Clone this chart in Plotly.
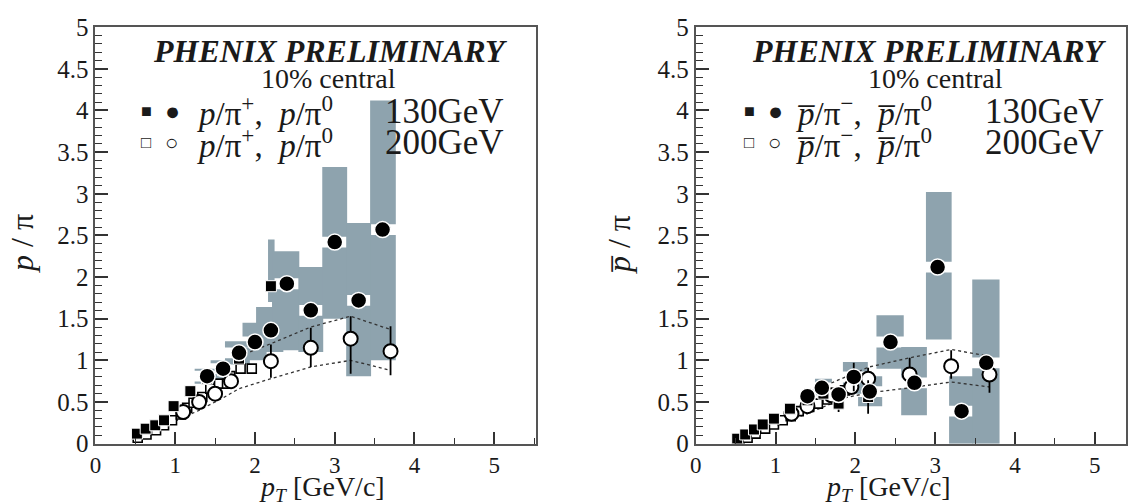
import plotly.graph_objects as go

# ---------------- LEFT PANEL: p/pi, 10% central ----------------
L_sq130_x = [0.52, 0.63, 0.75, 0.86, 0.98, 1.19, 1.40, 1.60, 1.80, 2.20]
L_sq130_y = [0.12, 0.18, 0.22, 0.28, 0.45, 0.63, 0.78, 0.88, 1.02, 1.89]
L_ci130_x = [1.40, 1.60, 1.80, 2.00, 2.20, 2.40, 2.70, 3.00, 3.30, 3.60]
L_ci130_y = [0.81, 0.90, 1.09, 1.22, 1.36, 1.92, 1.60, 2.42, 1.72, 2.57]
L_sq200_x = [0.53, 0.64, 0.76, 0.86, 0.96, 1.07, 1.15, 1.23, 1.34, 1.44, 1.55, 1.65, 1.69, 1.82, 1.96]
L_sq200_y = [0.07, 0.11, 0.16, 0.22, 0.28, 0.35, 0.43, 0.49, 0.56, 0.66, 0.72, 0.72, 0.81, 0.90, 0.90]
L_ci200_x = [1.10, 1.30, 1.50, 1.70, 2.20, 2.70, 3.20, 3.70]
L_ci200_y = [0.38, 0.50, 0.60, 0.75, 0.99, 1.15, 1.26, 1.11]
L_ci200_eup = [0.0, 0.0, 0.0, 0.0, 0.20, 0.24, 0.27, 0.30]
L_ci200_edn = [0.0, 0.0, 0.0, 0.0, 0.20, 0.23, 0.42, 0.29]
L_up_x = [1.80, 2.20, 2.70, 3.20, 3.70]
L_up_y = [1.05, 1.20, 1.40, 1.53, 1.37]
L_lo_x = [1.00, 1.30, 1.60, 1.80, 2.20, 2.70, 3.20, 3.70]
L_lo_y = [0.27, 0.40, 0.55, 0.66, 0.78, 0.92, 1.00, 0.88]
# systematic boxes (130 GeV)
L_box_x0 = [1.25, 1.45, 1.63, 1.85, 2.02, 2.17, 2.22, 2.55, 2.85, 3.15, 3.45]
L_box_x1 = [1.55, 1.72, 1.93, 2.14, 2.35, 2.24, 2.55, 2.85, 3.15, 3.45, 3.76]
L_box_y0 = [0.72, 0.78, 0.95, 1.00, 1.10, 1.70, 1.12, 1.10, 1.50, 0.81, 1.00]
L_box_y1 = [0.90, 1.00, 1.23, 1.45, 1.64, 2.45, 2.31, 2.12, 3.32, 2.65, 4.12]
L_box_yc = [0.81, 0.90, 1.09, 1.22, 1.36, 1.89, 1.92, 1.60, 2.42, 1.72, 2.57]

# ---------------- RIGHT PANEL: pbar/pi, 10% central ----------------
R_sq130_x = [0.52, 0.62, 0.73, 0.84, 0.98, 1.18, 1.40, 1.60, 1.79, 2.16]
R_sq130_y = [0.06, 0.11, 0.17, 0.23, 0.30, 0.42, 0.52, 0.60, 0.48, 0.56]
R_sq130_e = [0.0, 0.0, 0.0, 0.0, 0.0, 0.0, 0.0, 0.0, 0.10, 0.20]
R_ci130_x = [1.40, 1.58, 1.79, 1.98, 2.18, 2.44, 2.74, 3.03, 3.33, 3.64]
R_ci130_y = [0.57, 0.67, 0.59, 0.80, 0.625, 1.22, 0.73, 2.12, 0.39, 0.97]
R_ci130_e = [0.0, 0.10, 0.10, 0.17, 0.0, 0.0, 0.0, 0.0, 0.0, 0.0]
R_sq200_x = [0.55, 0.65, 0.75, 0.87, 0.98, 1.09, 1.19, 1.29, 1.42, 1.53, 1.65, 1.75, 1.87]
R_sq200_y = [0.05, 0.07, 0.12, 0.18, 0.23, 0.28, 0.33, 0.39, 0.44, 0.48, 0.53, 0.59, 0.64]
R_ci200_x = [1.20, 1.40, 1.70, 1.95, 2.16, 2.68, 3.20, 3.68]
R_ci200_y = [0.36, 0.45, 0.58, 0.68, 0.78, 0.83, 0.93, 0.83]
R_ci200_eup = [0.0, 0.0, 0.0, 0.0, 0.13, 0.20, 0.19, 0.23]
R_ci200_edn = [0.0, 0.0, 0.0, 0.0, 0.12, 0.15, 0.15, 0.22]
R_up_x = [1.63, 2.17, 2.68, 3.20, 3.68]
R_up_y = [0.70, 0.92, 1.03, 1.13, 1.05]
R_lo_x = [0.96, 1.40, 1.87, 2.17, 2.68, 3.20, 3.68]
R_lo_y = [0.21, 0.36, 0.55, 0.61, 0.67, 0.74, 0.68]
R_box_x0 = [1.35, 1.50, 1.85, 2.04, 2.27, 2.58, 2.89, 3.18, 3.47]
R_box_x1 = [1.55, 1.70, 2.15, 2.33, 2.60, 2.89, 3.20, 3.47, 3.80]
R_box_y0 = [0.50, 0.58, 0.60, 0.45, 0.90, 0.34, 1.25, 0.00, 0.00]
R_box_y1 = [0.65, 0.78, 0.98, 0.81, 1.54, 1.16, 3.02, 0.81, 1.97]
R_box_yc = [0.57, 0.67, 0.80, 0.625, 1.22, 0.73, 2.12, 0.39, 0.97]

# tick values
X_TICKS = [0, 1, 2, 3, 4, 5]
Y_TICKS = [0, 0.5, 1, 1.5, 2, 2.5, 3, 3.5, 4, 4.5, 5]

W, H = 1128, 504
FONT = "Liberation Serif"
BOXC = "#8ea3ae"
GAP = 0.065
PAD = 0.006


def px(x):
    return x / W


def py(y):
    return 1 - y / H


fig = go.Figure()
shapes = []


def add_panel(xa, ya, sq130, ci130, sq200, ci200, ci200e, up, lo, boxes, sq130e=None, ci130e=None):
    x0s, x1s, y0s, y1s, ycs = boxes
    for a, b, c, d, yc in zip(x0s, x1s, y0s, y1s, ycs):
        parts = [(c, d)]
        if c < yc < d:
            parts = [(c, yc - GAP), (yc + GAP, d)]
        for lo_, hi_ in parts:
            if hi_ > lo_:
                shapes.append(dict(type="rect", xref=xa, yref=ya, x0=a - PAD, x1=b + PAD,
                                   y0=lo_, y1=hi_,
                                   fillcolor=BOXC, line=dict(width=0), layer="below"))
    for lx, ly in (up, lo):
        fig.add_trace(go.Scatter(x=lx, y=ly, mode="lines", xaxis=xa, yaxis=ya,
                                 line=dict(color="#333", width=1.3, dash="dot"), hoverinfo="skip"))
    fig.add_trace(go.Scatter(x=sq200[0], y=sq200[1], mode="markers", xaxis=xa, yaxis=ya,
                             marker=dict(symbol="square", size=9, color="white",
                                         line=dict(color="black", width=1.6))))
    fig.add_trace(go.Scatter(x=ci200[0], y=ci200[1], mode="markers", xaxis=xa, yaxis=ya,
                             error_y=dict(type="data", symmetric=False, array=ci200e[0],
                                          arrayminus=ci200e[1], color="black", thickness=1.8, width=0),
                             marker=dict(symbol="circle", size=14, color="white",
                                         line=dict(color="black", width=2))))
    ey = None
    if sq130e is not None:
        ey = dict(type="data", array=sq130e, color="black", thickness=1.8, width=0)
    fig.add_trace(go.Scatter(x=sq130[0], y=sq130[1], mode="markers", xaxis=xa, yaxis=ya,
                             error_y=ey,
                             marker=dict(symbol="square", size=11, color="black",
                                         line=dict(color="white", width=1))))
    ey = None
    if ci130e is not None:
        ey = dict(type="data", array=ci130e, color="black", thickness=1.8, width=0)
    fig.add_trace(go.Scatter(x=ci130[0], y=ci130[1], mode="markers", xaxis=xa, yaxis=ya,
                             error_y=ey,
                             marker=dict(symbol="circle", size=16, color="black",
                                         line=dict(color="white", width=1.5))))


add_panel("x", "y", (L_sq130_x, L_sq130_y), (L_ci130_x, L_ci130_y), (L_sq200_x, L_sq200_y),
          (L_ci200_x, L_ci200_y), (L_ci200_eup, L_ci200_edn), (L_up_x, L_up_y), (L_lo_x, L_lo_y),
          (L_box_x0, L_box_x1, L_box_y0, L_box_y1, L_box_yc))
add_panel("x2", "y2", (R_sq130_x, R_sq130_y), (R_ci130_x, R_ci130_y), (R_sq200_x, R_sq200_y),
          (R_ci200_x, R_ci200_y), (R_ci200_eup, R_ci200_edn), (R_up_x, R_up_y), (R_lo_x, R_lo_y),
          (R_box_x0, R_box_x1, R_box_y0, R_box_y1, R_box_yc), R_sq130_e, R_ci130_e)

xtickfont = dict(family=FONT, size=23, color="#1a1a1a")
ytickfont = dict(family=FONT, size=25, color="#1a1a1a")


def xaxis(domain, rng, anchor):
    return dict(domain=domain, range=rng, anchor=anchor, tickvals=X_TICKS, ticks="inside",
                ticklen=12, tickwidth=1.5, tickcolor="#333",
                minor=dict(ticks="inside", dtick=0.5, ticklen=6, tickwidth=1.3, tickcolor="#333"),
                showline=True, linecolor="#555", linewidth=2, mirror=True,
                showgrid=False, zeroline=False, tickfont=xtickfont, fixedrange=True)


def yaxis(anchor):
    return dict(domain=[py(455), py(15)], range=[0, 5], anchor=anchor, tickvals=Y_TICKS,
                ticktext=[("%g" % v) for v in Y_TICKS], ticks="inside",
                ticklen=13, tickwidth=1.5, tickcolor="#333",
                minor=dict(ticks="inside", dtick=0.1, ticklen=7, tickwidth=1.2, tickcolor="#333"),
                showline=True, linecolor="#555", linewidth=2, mirror=True,
                showgrid=False, zeroline=False, tickfont=ytickfont, fixedrange=True)


ann = []


def text(x, y, s, size, xanchor="center", angle=0, bold=False, italic=False, yanchor="middle"):
    s2 = s
    if italic:
        s2 = "<i>" + s2 + "</i>"
    if bold:
        s2 = "<b>" + s2 + "</b>"
    ann.append(dict(x=px(x), y=py(y), xref="paper", yref="paper", text=s2, showarrow=False,
                    xanchor=xanchor, yanchor=yanchor, textangle=angle,
                    font=dict(family=FONT, size=size, color="#1a1a1a")))


NB = "\u00a0"
# left panel texts
text(326, 40, "PHENIX PRELIMINARY", 32, bold=True, italic=True)
text(325, 69, "10% central", 28)
text(141, 104, "■", 18)
text(168, 104, "●", 25)
text(190, 104, "<i>p</i>/π<sup>+</sup>," + NB + NB + "<i>p</i>/π<sup>0</sup>", 33, xanchor="left")
text(503, 104, "130GeV", 35, xanchor="right")
text(141, 137, "□", 17)
text(167, 137, "○", 22)
text(190, 137, "<i>p</i>/π<sup>+</sup>," + NB + NB + "<i>p</i>/π<sup>0</sup>", 33, xanchor="left")
text(503, 137, "200GeV", 35, xanchor="right")
text(16, 243, "<i>p</i> / π", 32, angle=-90)
text(318, 482, "<i>p<sub>T</sub></i> [GeV/c]", 28, yanchor="top")

# right panel texts
PB = "<i>p\u0305</i>"
text(929, 40, "PHENIX PRELIMINARY", 32, bold=True, italic=True)
text(935, 69, "10% central", 28)
text(748, 104, "■", 18)
text(774, 104, "●", 25)
text(793, 104, PB + "/π<sup>\u2212</sup>," + NB + NB + PB + "/π<sup>0</sup>", 33, xanchor="left")
text(1107, 104, "130GeV", 35, xanchor="right")
text(748, 137, "□", 17)
text(773, 137, "○", 22)
text(793, 137, PB + "/π<sup>\u2212</sup>," + NB + NB + PB + "/π<sup>0</sup>", 33, xanchor="left")
text(1107, 137, "200GeV", 35, xanchor="right")
text(617, 245, PB + " / π", 32, angle=-90)
text(888, 482, "<i>p<sub>T</sub></i> [GeV/c]", 28, yanchor="top")

fig.update_layout(
    width=W, height=H, margin=dict(l=0, r=0, t=0, b=0),
    paper_bgcolor="white", plot_bgcolor="white", showlegend=False,
    xaxis=xaxis([px(90), px(533)], [0, 5.52], "y"),
    yaxis=yaxis("x"),
    xaxis2=xaxis([px(694), px(1127)], [0, 5.39], "y2"),
    yaxis2=yaxis("x2"),
    shapes=shapes, annotations=ann,
)

fig.write_html("out.html")
